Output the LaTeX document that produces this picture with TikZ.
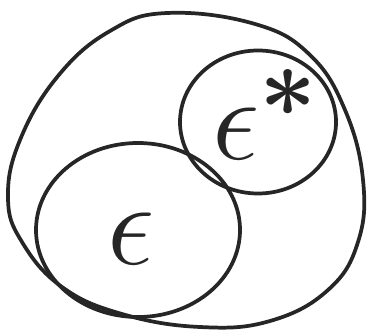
\documentclass[tikz,border=0pt]{standalone}
\usepackage{amsmath,amssymb}
\usetikzlibrary{shapes.geometric}

\tikzset{
  sketch/.style={draw=black!85, line width=2.8pt, line join=round},
  blob/.style={sketch, ellipse, inner sep=0pt},
  letter/.style={scale=3.6, font=\Huge, text=black!85}
}

\begin{document}
\begin{tikzpicture}[x=0.75pt, y=-0.75pt]
  \useasboundingbox (0,0) rectangle (373,331);
  % outer region
  \draw[sketch] plot[smooth cycle, tension=0.7] coordinates {
    (167,13) (255,24) (310,55) (345,110) (363,180) (358,242)
    (328,290) (270,321) (200,327) (122,314) (62,287) (22,242)
    (8,198) (20,140) (58,76) (110,31)};
  % the two sets
  \node[blob, minimum width=156*0.75pt, minimum height=143*0.75pt] (star) at (258,122) {};
  \node[blob, minimum width=204*0.75pt, minimum height=174*0.75pt] (plain) at (138,230) {};
  \node[letter] (lblplain) at (131,239) {$\epsilon$};
  \node[letter] (lblstar) at (236,134) {$\epsilon\rlap{\smash{$^{\boldsymbol{*}}$}}$};
\end{tikzpicture}
\end{document}
